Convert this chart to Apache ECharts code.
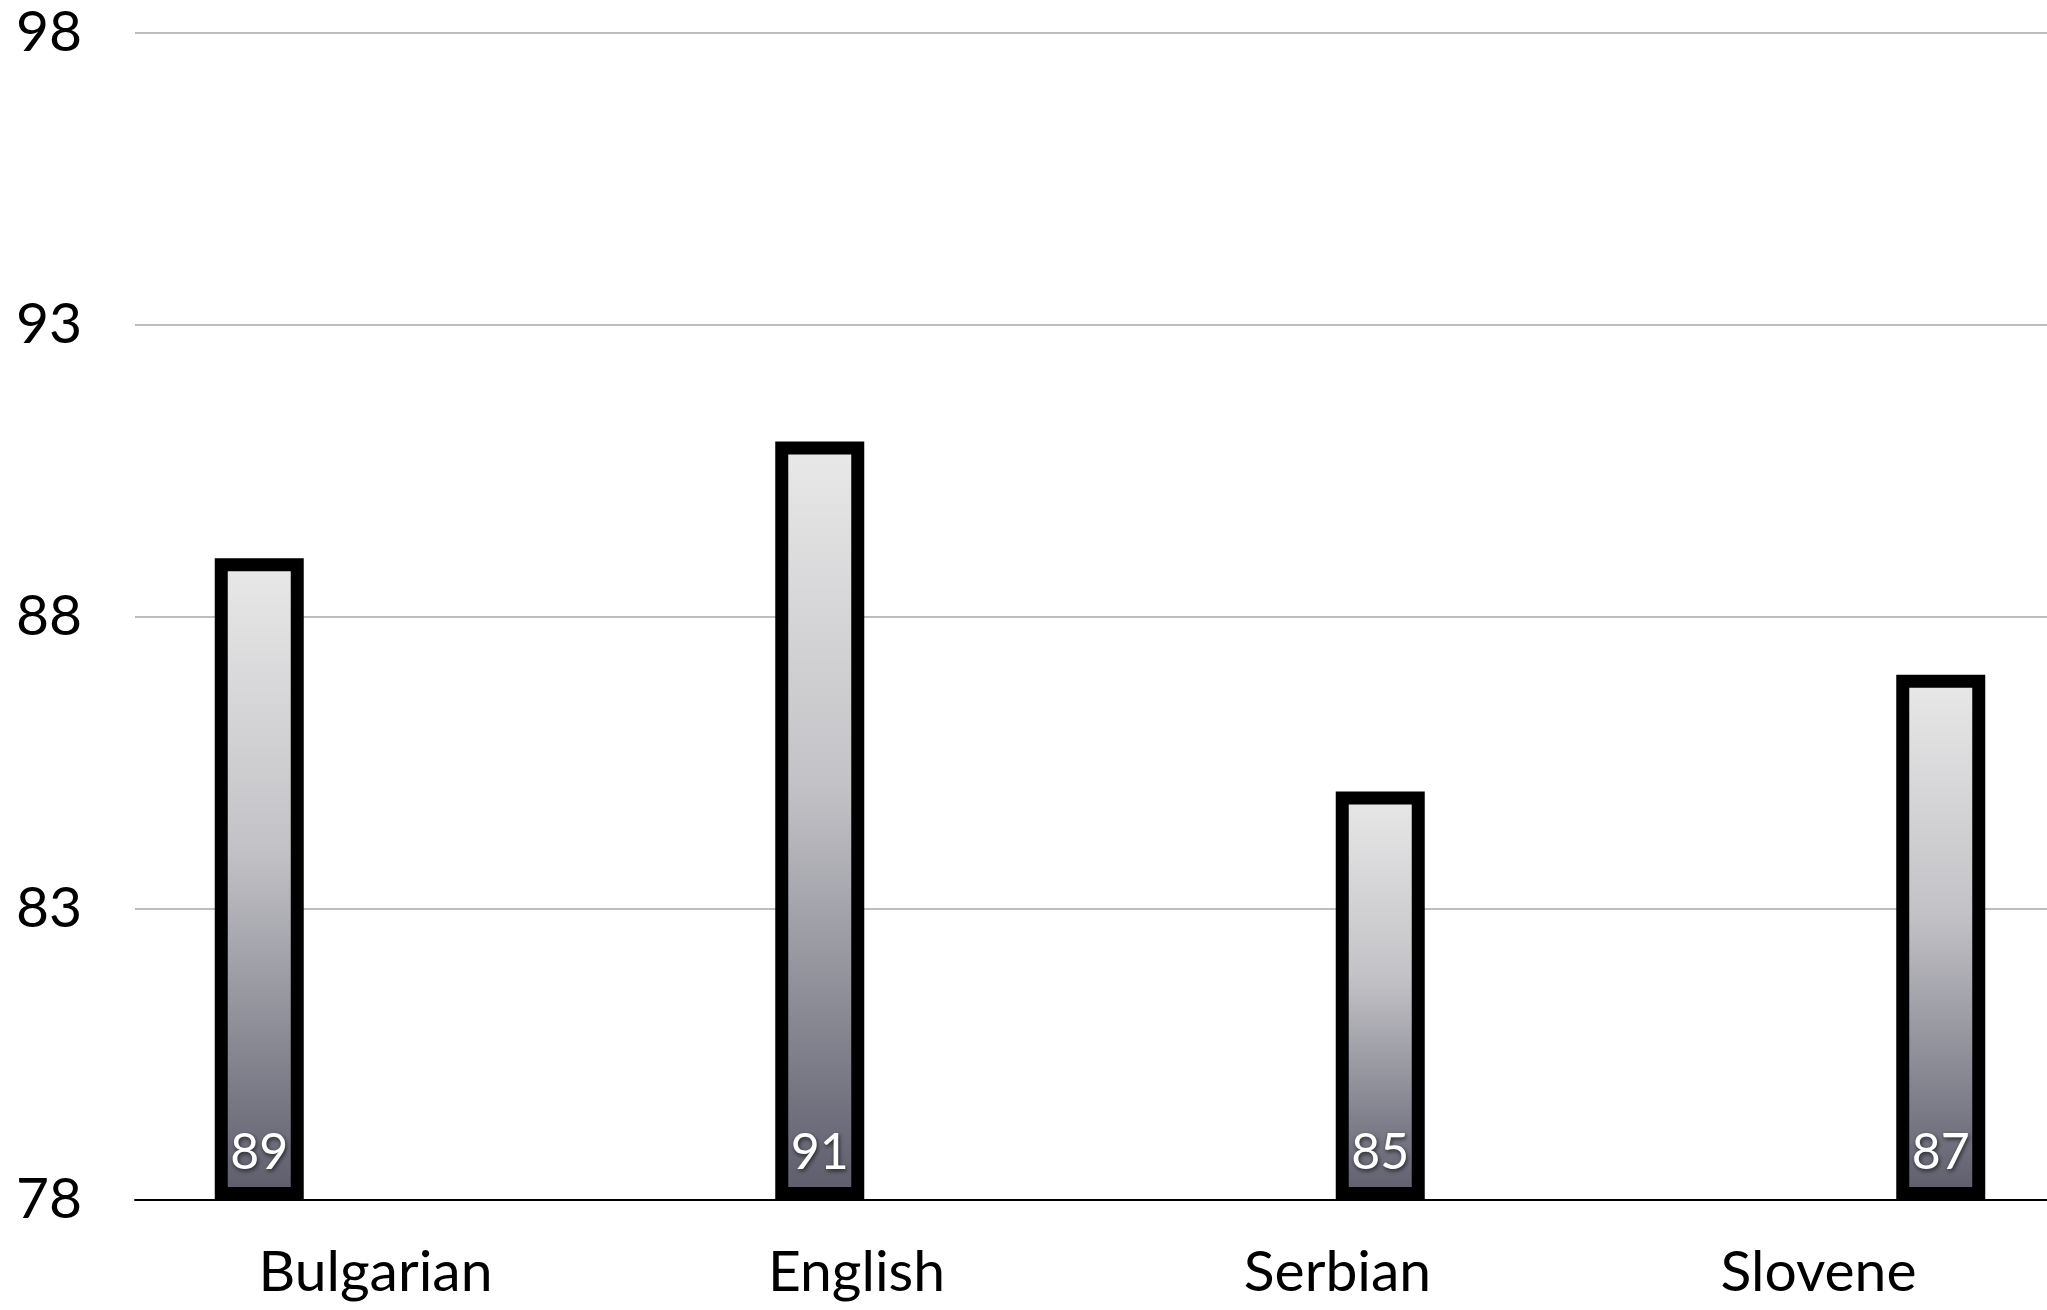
<!DOCTYPE html>
<html>
<head>
<meta charset="utf-8">
<title>Scores by language</title>
<script src="https://cdn.jsdelivr.net/npm/echarts@6/dist/echarts.min.js"></script>
<style>
  html, body { margin: 0; padding: 0; background: #ffffff; }
  #chart { width: 2047px; height: 1310px; }
</style>
</head>
<body>
<div id="chart"></div>
<script>
// Languages and their scores
const languages = ['Bulgarian', 'English', 'Serbian', 'Slovene'];
const scores = [89, 91, 85, 87];

// Value axis range and step
const axisMin = 78;
const axisMax = 98;
const axisStep = 5;

const FONT = 'Lato, "Open Sans", sans-serif';
const BAR_OUTER = 89;   // bar width including the black frame
const FRAME = 13;       // frame thickness

const chart = echarts.init(document.getElementById('chart'), null, { renderer: 'canvas' });

chart.setOption({
  backgroundColor: '#ffffff',
  animation: false,
  grid: [
    // grid 0: axes, gridlines and category labels
    { left: 135, width: 1924, top: 33, bottom: 110, containLabel: false, outerBoundsMode: 'none' },
    // grid 1: the bars, laid out on a wider band
    { left: -21, width: 2242, top: 33, bottom: 110, containLabel: false, outerBoundsMode: 'none' }
  ],
  xAxis: [
    {
      type: 'category',
      gridIndex: 0,
      data: languages,
      z: 10,
      axisLine: { show: true, lineStyle: { color: '#000000', width: 2 } },
      axisTick: { show: false },
      axisLabel: { color: '#000000', fontFamily: FONT, fontSize: 57, margin: 44 },
      splitLine: { show: false }
    },
    {
      type: 'category',
      gridIndex: 1,
      data: languages,
      show: false
    }
  ],
  yAxis: [
    {
      type: 'value',
      gridIndex: 0,
      min: axisMin,
      max: axisMax,
      interval: axisStep,
      axisLine: { show: false },
      axisTick: { show: false },
      axisLabel: { color: '#000000', fontFamily: FONT, fontSize: 57, margin: 53 },
      splitLine: { show: true, lineStyle: { color: '#bdbdbd', width: 2 } }
    },
    {
      type: 'value',
      gridIndex: 1,
      min: axisMin,
      max: axisMax,
      interval: axisStep,
      show: false,
      splitLine: { show: false }
    }
  ],
  series: [
    {
      type: 'custom',
      xAxisIndex: 1,
      yAxisIndex: 1,
      clip: false,
      data: scores.map((v, i) => [i, v]),
      renderItem: function (params, api) {
        const idx = api.value(0);
        const val = api.value(1);
        const top = api.coord([idx, val]);
        const base = api.coord([idx, axisMin]);
        const half = FRAME / 2;
        const x = top[0] - BAR_OUTER / 2 + half;
        const y = top[1] + half;
        const w = BAR_OUTER - FRAME;
        const h = base[1] - top[1] - FRAME;
        return {
          type: 'group',
          children: [
            {
              type: 'rect',
              shape: { x: x, y: y, width: w, height: h },
              style: {
                fill: new echarts.graphic.LinearGradient(0, 0, 0, 1, [
                  { offset: 0, color: '#e9e9e9' },
                  { offset: 0.45, color: '#c3c3c7' },
                  { offset: 1, color: '#5b5b6b' }
                ]),
                stroke: '#000000',
                lineWidth: FRAME
              }
            },
            {
              type: 'text',
              style: {
                text: String(val),
                x: top[0],
                y: base[1] - 47,
                align: 'center',
                verticalAlign: 'middle',
                fill: '#ffffff',
                font: '50px ' + FONT,
                textShadowColor: 'rgba(0,0,0,0.65)',
                textShadowBlur: 4,
                textShadowOffsetX: 1,
                textShadowOffsetY: 2
              }
            }
          ]
        };
      }
    }
  ]
});
</script>
</body>
</html>
